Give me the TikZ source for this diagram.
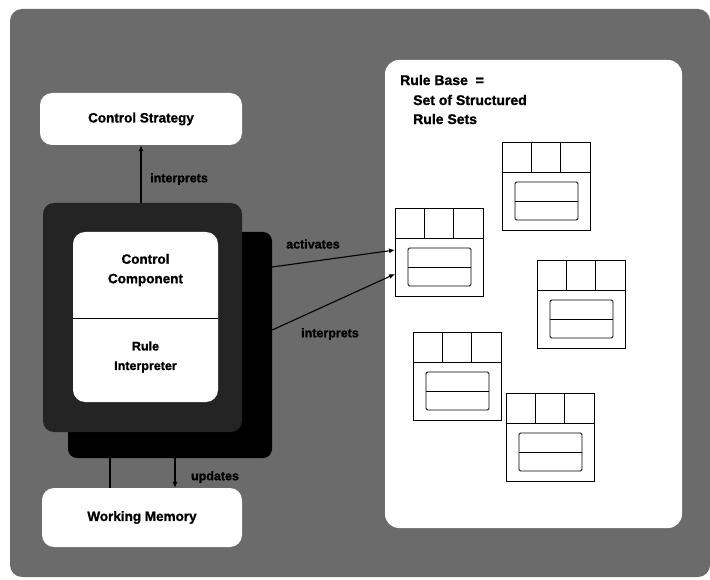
\documentclass[tikz,border=0pt]{standalone}
\usepackage{fontspec}
\setmainfont{Liberation Sans}[BoldFeatures={FakeBold=1.2}]
\usetikzlibrary{arrows.meta}

\definecolor{paneldark}{gray}{0.42}
\definecolor{framedark}{gray}{0.14}

\tikzset{
  whitebox/.style={fill=white, draw=none, rounded corners=12pt, inner sep=0pt,
                   font=\bfseries\fontsize{13.5}{16}\selectfont, align=center},
  edgelabel/.style={font=\bfseries\fontsize{12.5}{14}\selectfont, inner sep=1pt},
  bodytext/.style={font=\bfseries\fontsize{13.5}{19.5}\selectfont, align=center},
  basetext/.style={font=\bfseries\fontsize{14}{16}\selectfont, anchor=west, inner sep=0pt},
  flow/.style={draw=black, line width=1.1pt, -{Latex[length=6pt,width=5pt]}},
  plainflow/.style={draw=black, line width=1.1pt},
  rsline/.style={draw=black, line width=0.9pt},
  pics/ruleset/.style={code={
    \node[draw=black, line width=0.9pt, fill=white, minimum width=88pt,
          minimum height=88pt, inner sep=0pt, anchor=north west] (-box) at (0,0) {};
    \draw[rsline] (0,30) -- (88,30);
    \draw[rsline] (29,0) -- (29,30);
    \draw[rsline] (58,0) -- (58,30);
    \draw[rsline, rounded corners=1.5pt] (13,40) rectangle (76,78);
    \draw[rsline] (13,59) -- (76,59);
  }}
}

\begin{document}
\begin{tikzpicture}[x=1pt, y=-1pt]
  \useasboundingbox (0,0) rectangle (710,580);

  % textured backdrop
  \fill[paneldark, rounded corners=12pt] (10,9) rectangle (710,577);

  % control strategy
  \node[whitebox, minimum width=202pt, minimum height=52pt] (cs) at (141,119) {Control Strategy};

  % stacked control block
  \node[fill=black, rounded corners=9pt, minimum width=204pt, minimum height=226pt,
        inner sep=0pt] (stackback) at (170,345) {};
  \node[fill=framedark, rounded corners=11pt, minimum width=199pt, minimum height=229pt,
        inner sep=0pt] (stackfront) at (142.5,317.5) {};
  \node[whitebox, minimum width=145pt, minimum height=170pt] (inner) at (145.5,317) {};
  \draw[black, line width=0.9pt] (inner.west |- 0,318) -- (inner.east |- 0,318);
  \node[bodytext] (ctrl) at (145.5,270) {Control\\Component};
  \node[bodytext, font=\bfseries\fontsize{12.5}{19.5}\selectfont] (interp) at (145.5,357) {Rule\\Interpreter};

  % working memory
  \node[whitebox, minimum width=200pt, minimum height=59pt] (wm) at (142,517.5) {Working Memory};

  % rule base panel
  \node[fill=white, rounded corners=14pt, minimum width=297pt, minimum height=468pt,
        inner sep=0pt] (rb) at (533.5,294) {};
  \node[basetext] (rbt1) at (400,80) {Rule Base \ =};
  \node[basetext] (rbt2) at (413,100) {Set of Structured};
  \node[basetext] (rbt3) at (413,119) {Rule Sets};

  % structured rule sets
  \pic (rsa) at (502,142) {ruleset};
  \pic (rsb) at (395,208) {ruleset};
  \pic (rsc) at (537,260) {ruleset};
  \pic (rsd) at (413,332) {ruleset};
  \pic (rse) at (506,393) {ruleset};

  % connectors
  \draw[flow] (stackfront.north -| cs.south) -- (cs.south);
  \node[edgelabel, anchor=west] (lblint1) at (149,179) {interprets};

  \coordinate (actfrom) at (stackback.east |- 0,267);
  \coordinate (actto) at (rsb-box.west |- 0,250);
  \draw[flow] (actfrom) -- (actto);
  \node[edgelabel] (lblact) at (313,244) {activates};

  \coordinate (intfrom) at (stackback.east |- 0,330);
  \coordinate (intto) at (rsb-box.west |- 0,274);
  \draw[flow] (intfrom) -- (intto);
  \node[edgelabel] (lblint2) at (330,334) {interprets};

  \draw[plainflow] (stackback.south -| 110,0) -- (wm.north -| 110,0);
  \draw[flow] (stackback.south -| 175,0) -- (wm.north -| 175,0);
  \node[edgelabel] (lblupd) at (215,477) {updates};
\end{tikzpicture}
\end{document}
